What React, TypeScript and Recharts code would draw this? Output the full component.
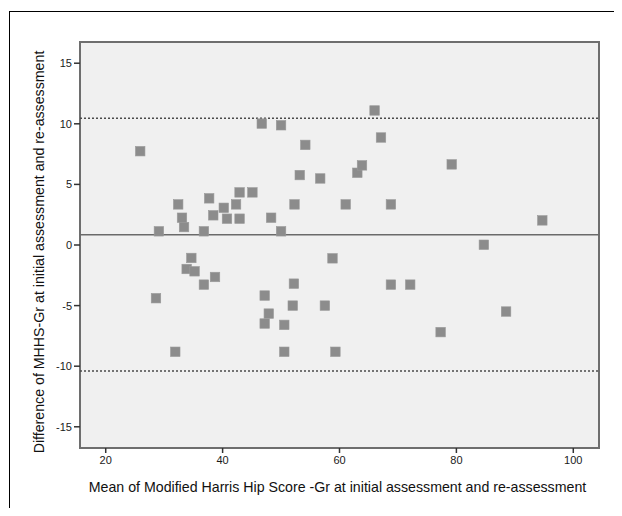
import React from "react";
import { ScatterChart, Scatter, XAxis, YAxis, ZAxis, ReferenceArea, ReferenceLine } from "recharts";

// mean of the two assessments (x) and their difference (y)
const meanScores: number[] = [
  25.9, 29.1, 32.4, 33.05, 33.4, 36.8, 37.7, 38.4, 40.2, 40.75, 42.3, 42.9, 42.9, 45.1, 46.7, 48.3,
  50.0, 50.0, 52.3, 53.2, 54.15, 56.7, 58.8, 61.06, 63.05, 63.85, 66.0, 67.1, 68.8, 79.2, 84.7, 94.7,
  34.65, 33.85, 35.2, 36.8, 38.7, 28.6, 31.9, 47.2, 47.9, 47.2, 50.55, 50.55, 52.2, 52.0, 57.5, 59.3,
  68.8, 72.1, 77.3, 88.5,
];
const differences: number[] = [
  7.74, 1.13, 3.35, 2.25, 1.48, 1.13, 3.85, 2.45, 3.07, 2.17, 3.35, 4.34, 2.17, 4.34, 10.02, 2.25,
  9.88, 1.13, 3.35, 5.77, 8.26, 5.49, -1.1, 3.35, 5.96, 6.57, 11.1, 8.87, 3.35, 6.65, 0.02, 2.03,
  -1.07, -1.98, -2.17, -3.27, -2.64, -4.39, -8.81, -4.17, -5.66, -6.48, -6.59, -8.81, -3.19, -5.0, -5.0, -8.81,
  -3.27, -3.27, -7.19, -5.49,
];

const meanDifference = 0.85;
const upperLimit = 10.45;
const lowerLimit = -10.4;

const xTicks: number[] = [20, 40, 60, 80, 100];
const yTicks: number[] = [-15, -10, -5, 0, 5, 10, 15];
const xDomain: [number, number] = [15.6, 104.4];
const yDomain: [number, number] = [-16.75, 16.75];

const xLabel = "Mean of Modified Harris Hip Score -Gr at initial assessment and re-assessment";
const yLabel = "Difference of MHHS-Gr at initial assessment and re-assessment";

const points = meanScores.map((m, i) => ({ mean: m, diff: differences[i] }));

const font = "'Liberation Sans', Arial, sans-serif";
const tickStyle = { fontSize: 11, fill: "#1a1a1a", fontFamily: font };

const SquareDot = (p: any) => {
  if (p.cx == null || p.cy == null) return null;
  return <rect x={p.cx - 4.75} y={p.cy - 4.75} width={9.5} height={9.5} fill="#8c8c8c" stroke="#9a9a9a" strokeWidth={0.6} />;
};

const App: React.FC = () => {
  return (
    <div style={{ position: "relative", width: 614, height: 500, background: "#fff" }}>
      <ScatterChart width={614} height={500} margin={{ top: 34, right: 23, bottom: 0, left: 0 }}>
        {/* outer frame: only the top and left edges fall inside the picture */}
        <line x1={1} y1={3.5} x2={614} y2={3.5} stroke="#000" strokeWidth={1} />
        <line x1={1.5} y1={3} x2={1.5} y2={500} stroke="#000" strokeWidth={1} />
        <XAxis
          type="number"
          dataKey="mean"
          domain={xDomain}
          ticks={xTicks}
          allowDataOverflow
          axisLine={false}
          tickLine={{ stroke: "#333", strokeWidth: 1.5 }}
          tickSize={5}
          tickMargin={3}
          tick={tickStyle}
          height={60}
          label={(props: any) => {
            const vb = props.viewBox;
            return (
              <text x={vb.x + vb.width / 2 - 2} y={vb.y + 44} textAnchor="middle" fontSize={14.2} fill="#111" fontFamily={font}>
                {xLabel}
              </text>
            );
          }}
        />
        <YAxis
          type="number"
          dataKey="diff"
          domain={yDomain}
          ticks={yTicks}
          allowDataOverflow
          axisLine={false}
          tickLine={{ stroke: "#333", strokeWidth: 1.5 }}
          tickSize={6}
          tickMargin={2}
          tick={tickStyle}
          width={72}
          label={(props: any) => {
            const vb = props.viewBox;
            const x = vb.x + 36;
            const y = vb.y + vb.height / 2 + 7;
            return (
              <text x={x} y={y} transform={`rotate(-90, ${x}, ${y})`} textAnchor="middle" fontSize={14.2} fill="#111" fontFamily={font}>
                {yLabel}
              </text>
            );
          }}
        />
        <ZAxis range={[81, 81]} />
        <ReferenceArea x1={xDomain[0]} x2={xDomain[1]} y1={yDomain[0]} y2={yDomain[1]} fill="#f0f0f0" fillOpacity={1} stroke="#6e6e6e" strokeWidth={2} />
        <ReferenceLine y={upperLimit} stroke="#4a4a4a" strokeWidth={1.5} strokeDasharray="2 2" />
        <ReferenceLine y={lowerLimit} stroke="#4a4a4a" strokeWidth={1.5} strokeDasharray="2 2" />
        <ReferenceLine y={meanDifference} stroke="#6a6a6a" strokeWidth={1.5} />
        <Scatter data={points} shape={<SquareDot />} isAnimationActive={false} />
      </ScatterChart>
    </div>
  );
};

export default App;
